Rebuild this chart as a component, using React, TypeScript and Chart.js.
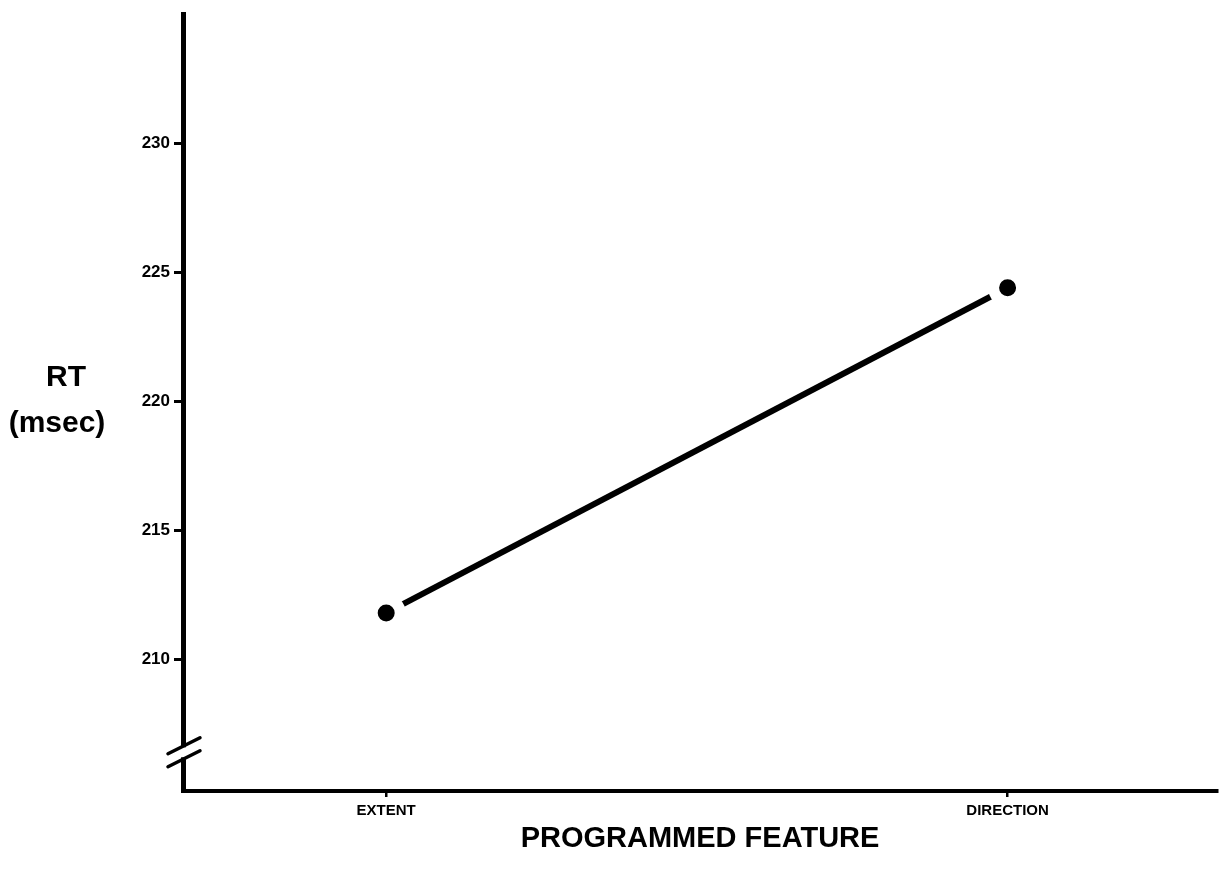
import { useEffect, useRef } from "react";
import { Chart, registerables } from "chart.js";

Chart.register(...registerables);

const categories = ["EXTENT", "DIRECTION"];
const categoryPositions = [1, 2];
const rtValues = [211.8, 224.4];
const yTickValues = [210, 215, 220, 225, 230];
const yMin = 204.9;
const yMax = 235;
const xMin = 0.673;
const xMax = 2.337;
const breakValue = 206.4;
const yLabelLines = ["RT", "(msec)"];
const xTitle = "PROGRAMMED FEATURE";

const FONT = "'Liberation Sans', Arial, sans-serif";

const decorPlugin = {
  id: "decor",
  afterDraw(chart: any) {
    const ctx = chart.ctx as CanvasRenderingContext2D;
    const yScale = chart.scales.y;
    const x0 = chart.chartArea.left;
    const yc = yScale.getPixelForValue(breakValue);
    ctx.save();
    ctx.fillStyle = "#fff";
    ctx.fillRect(x0 - 6, yc - 5, 12, 10);
    ctx.strokeStyle = "#000";
    ctx.lineWidth = 3.5;
    ctx.lineCap = "round";
    for (const dy of [-6.5, 6.5]) {
      ctx.beginPath();
      ctx.moveTo(x0 - 15, yc + dy + 8);
      ctx.lineTo(x0 + 17, yc + dy - 8);
      ctx.stroke();
    }
    ctx.fillStyle = "#000";
    ctx.textAlign = "center";
    ctx.textBaseline = "middle";
    ctx.font = `bold 30px ${FONT}`;
    ctx.fillText(yLabelLines[0], 66, 378);
    ctx.fillText(yLabelLines[1], 57, 424);
    ctx.restore();
  },
};

export default function App() {
  const ref = useRef<HTMLCanvasElement | null>(null);

  useEffect(() => {
    if (!ref.current) return;
    const chart = new Chart(ref.current, {
      type: "line",
      data: {
        datasets: [
          {
            data: categoryPositions.map((x, i) => ({ x, y: rtValues[i] })),
            borderColor: "#000",
            borderWidth: 6,
            pointRadius: 14,
            pointHoverRadius: 14,
            pointBackgroundColor: "#000",
            pointBorderColor: "#fff",
            pointBorderWidth: 11,
            pointHoverBorderWidth: 11,
            tension: 0,
            clip: false,
          } as any,
        ],
      },
      options: {
        animation: false,
        responsive: false,
        maintainAspectRatio: false,
        events: [],
        layout: { autoPadding: false, padding: { top: 10, right: 5, left: 0, bottom: 0 } },
        plugins: {
          legend: { display: false },
          tooltip: { enabled: false },
        },
        scales: {
          x: {
            type: "linear",
            min: xMin,
            max: xMax,
            afterBuildTicks: (s: any) => {
              s.ticks = categoryPositions.map((v) => ({ value: v }));
            },
            afterFit: (s: any) => {
              s.height = 85;
            },
            ticks: {
              callback: (v: any) => {
                const i = categoryPositions.indexOf(Number(v));
                return i >= 0 ? categories[i] : "";
              },
              font: { family: FONT, size: 15, weight: "bold" },
              color: "#000",
              padding: 5,
              maxRotation: 0,
              autoSkip: false,
            },
            grid: {
              display: true,
              drawOnChartArea: false,
              drawTicks: true,
              tickLength: 6,
              lineWidth: 2.5,
              color: "#000",
            },
            border: { display: true, color: "#000", width: 4 },
            title: {
              display: true,
              text: xTitle,
              font: { family: FONT, size: 29, weight: "bold" },
              color: "#000",
              padding: { top: 10, bottom: 20 },
            },
          },
          y: {
            type: "linear",
            min: yMin,
            max: yMax,
            afterBuildTicks: (s: any) => {
              s.ticks = yTickValues.map((v) => ({ value: v }));
            },
            afterFit: (s: any) => {
              s.width = 183;
            },
            ticks: {
              font: { family: FONT, size: 17, weight: "bold" },
              color: "#000",
              padding: 4,
            },
            grid: {
              display: true,
              drawOnChartArea: false,
              drawTicks: true,
              tickLength: 9,
              lineWidth: 3,
              color: "#000",
            },
            border: { display: true, color: "#000", width: 5 },
          },
        },
      } as any,
      plugins: [decorPlugin],
    });
    return () => chart.destroy();
  }, []);

  return (
    <div style={{ position: "fixed", left: 0, top: 0, width: 1222, height: 876, background: "#fff" }}>
      <canvas ref={ref} width={1222} height={876} style={{ width: 1222, height: 876, display: "block" }} />
    </div>
  );
}
